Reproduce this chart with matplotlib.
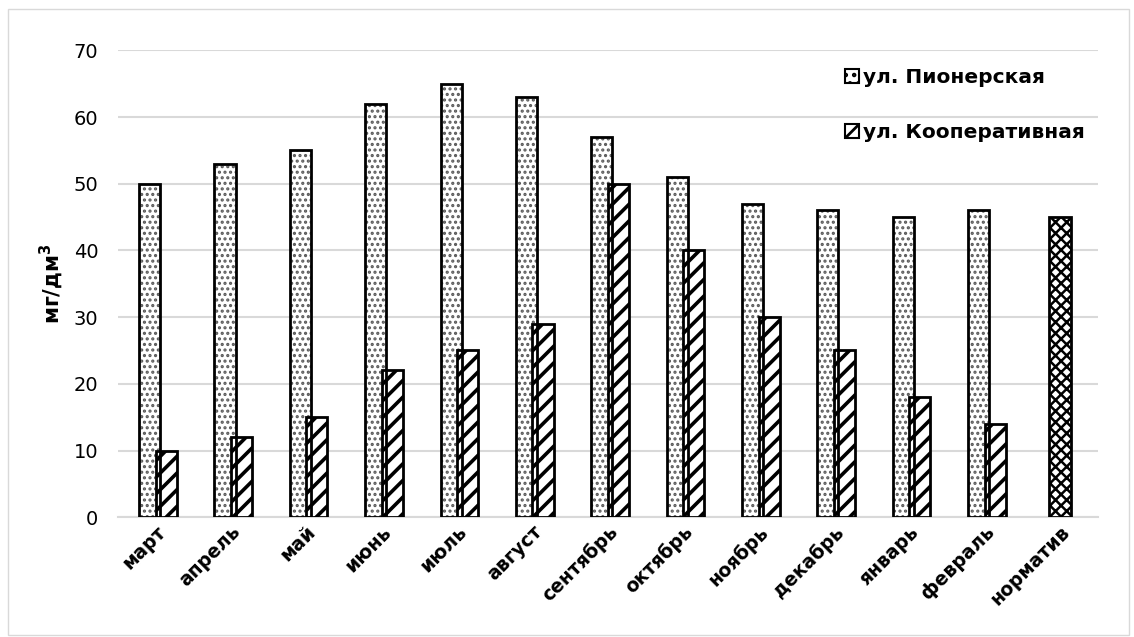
import numpy as np
import matplotlib.pyplot as plt
from matplotlib.patches import Rectangle, Patch

plt.rcParams['font.family'] = ['DejaVu Sans']

months = ["март", "апрель", "май", "июнь", "июль", "август", "сентябрь",
          "октябрь", "ноябрь", "декабрь", "январь", "февраль", "норматив"]
pioneer = [50, 53, 55, 62, 65, 63, 57, 51, 47, 46, 45, 46]
coop = [10, 12, 15, 22, 25, 29, 50, 40, 30, 25, 18, 14]
norm = 45

fig = plt.figure(figsize=(11.34, 6.37), dpi=100)
ax = fig.add_axes([0.104, 0.188, 0.864, 0.733])

x = np.arange(len(pioneer))
w = 0.28

# dotted bars: gray dots, black outline drawn on top
plt.rcParams['hatch.linewidth'] = 1.5
ax.bar(x - 0.08, pioneer, w, facecolor='white', edgecolor='#5a5a5a',
       hatch='...', linewidth=0, zorder=3)
ax.bar(x - 0.08, pioneer, w, facecolor='none', edgecolor='black',
       linewidth=2, zorder=4)

plt.rcParams['hatch.linewidth'] = 2.6
ax.bar(x + 0.14, coop, w, facecolor='white', edgecolor='black',
       hatch='//', linewidth=2, zorder=3)

plt.rcParams['hatch.linewidth'] = 1.8
ax.bar(len(months) - 1, norm, w, facecolor='white', edgecolor='black',
       hatch='xxx', linewidth=2, zorder=3)

ax.set_xlim(-0.5, len(months) - 0.5)
ax.set_ylim(0, 70)
ax.set_yticks(range(0, 71, 10))
ax.yaxis.grid(True, color='#d9d9d9', linewidth=1.5)
ax.set_axisbelow(True)
for s in ['top', 'right', 'left']:
    ax.spines[s].set_visible(False)
ax.spines['bottom'].set_color('#d9d9d9')
ax.spines['bottom'].set_linewidth(1.5)
ax.tick_params(axis='both', length=0)
ax.tick_params(axis='y', labelsize=14, pad=14, colors='black')
ax.set_xticks(np.arange(len(months)))
ax.set_xticklabels(months, rotation=45, ha='right', rotation_mode='anchor',
                   fontsize=13.5, fontweight='bold')
ax.set_ylabel('мг/дм$^\\mathbf{3}$', fontsize=15, fontweight='bold', labelpad=6)

# legend handles: small hatched squares
plt.rcParams['hatch.linewidth'] = 1.3
h1 = Patch(facecolor='white', edgecolor='black', hatch='..', linewidth=1.5)
plt.rcParams['hatch.linewidth'] = 2.0
h2 = Patch(facecolor='white', edgecolor='black', hatch='//', linewidth=1.5)
ax.legend([h1, h2], ['ул. Пионерская', 'ул. Кооперативная'],
          loc='upper right', bbox_to_anchor=(1.005, 1.0), frameon=False,
          prop={'size': 14.5, 'weight': 'bold'}, handlelength=0.7,
          handleheight=0.7, handletextpad=0.2, labelspacing=1.75)

fig.patches.append(Rectangle((0.007, 0.003), 0.989, 0.983, transform=fig.transFigure,
                             fill=False, edgecolor='#d9d9d9', linewidth=1))

fig.savefig('out.png', dpi=100)
